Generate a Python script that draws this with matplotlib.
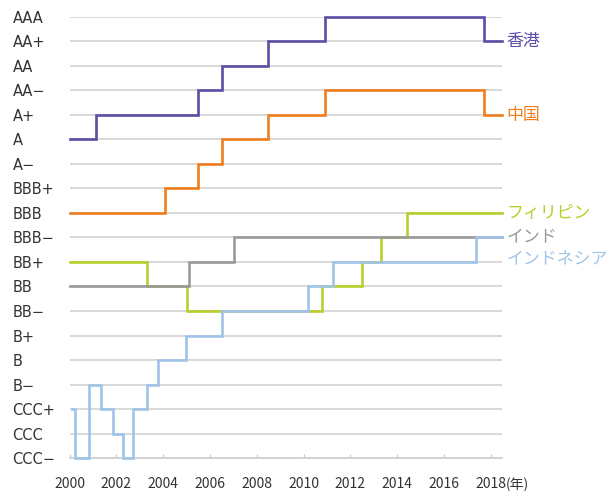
"""
Sovereign credit rating history (2000-2018) for Hong Kong, China,
the Philippines, India and Indonesia, drawn as step lines.
"""

import matplotlib
matplotlib.use("Agg")
import matplotlib.pyplot as plt

plt.rcParams["font.family"] = ["Noto Sans CJK JP", "DejaVu Sans"]

# Rating scale, bottom to top
ratings = ["CCC−", "CCC", "CCC+", "B−", "B", "B+", "BB−", "BB", "BB+",
           "BBB−", "BBB", "BBB+", "A−", "A", "A+", "AA−", "AA", "AA+", "AAA"]

end_year = 2018.48

# Change points: year of change and new rating (index into ratings)
hk_years = [2000.0, 2001.15, 2005.5, 2006.5, 2008.5, 2010.9, 2017.7]
hk_rating = [13, 14, 15, 16, 17, 18, 17]

cn_years = [2000.0, 2004.1, 2005.5, 2006.5, 2008.5, 2010.9, 2017.7]
cn_rating = [10, 11, 12, 13, 14, 15, 14]

ph_years = [2000.0, 2003.3, 2005.02, 2010.8, 2012.5, 2013.3, 2014.4]
ph_rating = [8, 7, 6, 7, 8, 9, 10]

in_years = [2000.0, 2005.1, 2007.03]
in_rating = [7, 8, 9]

id_years = [2000.12, 2000.22, 2000.85, 2001.35, 2001.87, 2002.27, 2002.7,
            2003.32, 2003.77, 2004.98, 2006.5, 2010.2, 2011.27, 2017.35]
id_rating = [2, 0, 3, 2, 1, 0, 2, 3, 4, 5, 6, 7, 8, 9]

series = [
    ("香港", hk_years, hk_rating, "#5b4ea6"),
    ("中国", cn_years, cn_rating, "#f07d1e"),
    ("フィリピン", ph_years, ph_rating, "#b7cf2c"),
    ("インド", in_years, in_rating, "#9a9a9a"),
    ("インドネシア", id_years, id_rating, "#9fc4e8"),
]
label_offsets = {"インド": 0.05, "インドネシア": -0.85}

fig = plt.figure(figsize=(6.14, 4.91), dpi=100)
ax = fig.add_axes([0.1132, 0.0672, 0.8176 - 0.1132, 0.9654 - 0.0672])

# horizontal grid at every rating level
ax.hlines(range(1, len(ratings)), 2000, end_year, color="#d6d6d6", lw=1.3, zorder=1)

for name, yrs, vals, color in series:
    xs = list(yrs) + [end_year]
    ys = list(vals) + [vals[-1]]
    ax.plot(xs, ys, drawstyle="steps-post", color=color, lw=1.9,
            solid_joinstyle="miter", clip_on=False, zorder=3)
    ax.text(2018.68, vals[-1] + label_offsets.get(name, 0), name, color=color,
            fontsize=12.2, va="center", ha="left")

ax.set_xlim(2000, end_year)
ax.set_ylim(0, len(ratings) - 1)

ax.set_yticks(range(len(ratings)))
ax.set_yticklabels(ratings, fontsize=10.5, color="#333333", family="DejaVu Sans")
for lab in ax.get_yticklabels():
    lab.set_horizontalalignment("left")
ax.tick_params(axis="y", length=0, pad=41)

years = list(range(2000, 2019, 2))
ax.set_xticks(years)
ax.set_xticklabels([str(y) for y in years], fontsize=10, color="#333333")
ax.tick_params(axis="x", direction="in", length=3, color="#c8c8c8", pad=14)
ax.annotate("(年)", xy=(2018, 0), xytext=(11, -14), textcoords="offset points",
            fontsize=10, color="#333333", ha="left", va="top",
            annotation_clip=False)

for side in ["top", "right", "left"]:
    ax.spines[side].set_visible(False)
ax.spines["bottom"].set_color("#d0d0d0")
ax.spines["bottom"].set_linewidth(1.3)

fig.savefig("out.png", dpi=100)
plt.close(fig)
